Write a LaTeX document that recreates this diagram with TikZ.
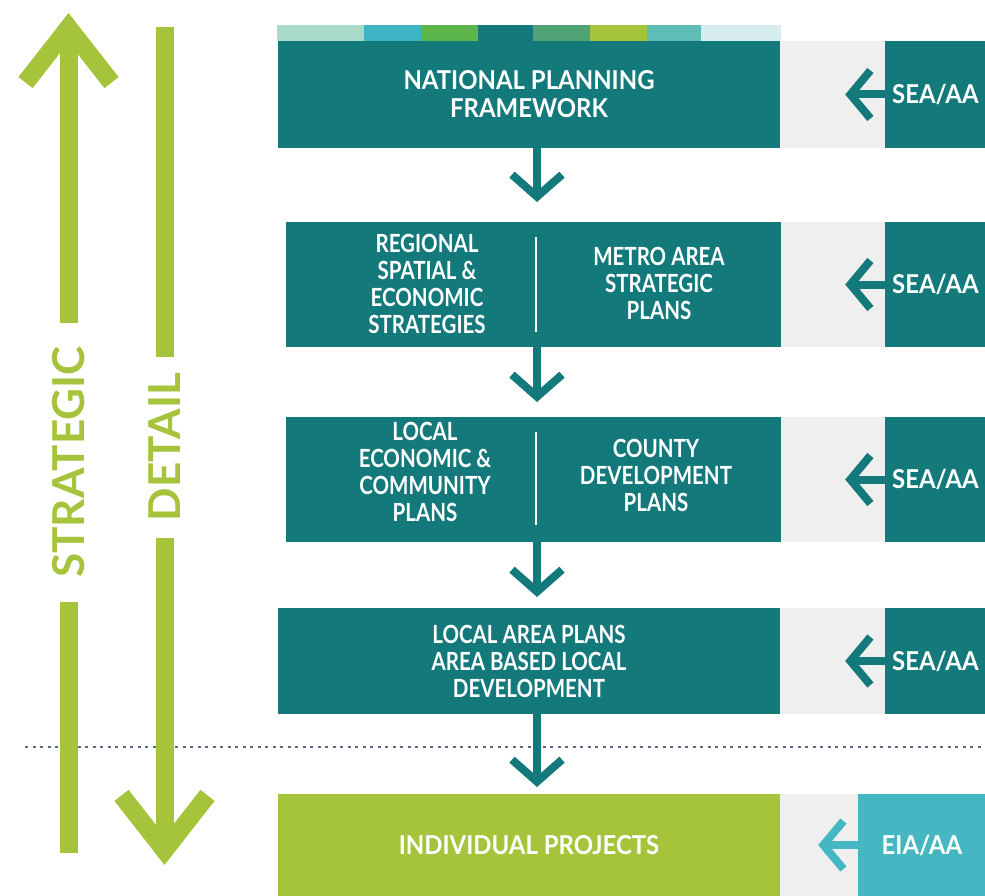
\documentclass[tikz,border=0pt]{standalone}
\usepackage{fontspec}
\setmainfont{Lato}
\newfontfamily\narrowfont{Lato}[FakeStretch=0.82]
\newfontfamily\widefont{Lato}[FakeStretch=0.92]
\usetikzlibrary{arrows.meta,positioning}

\definecolor{planteal}{HTML}{13797A}
\definecolor{planlime}{HTML}{A6C43B}
\definecolor{planaqua}{HTML}{45B7C2}
\definecolor{planpanel}{HTML}{EFEFEF}
\definecolor{planrule}{HTML}{5E6687}
\definecolor{stripa}{HTML}{A9D9C9}
\definecolor{stripb}{HTML}{3EB5C4}
\definecolor{stripc}{HTML}{5CB64B}
\definecolor{stripd}{HTML}{13797A}
\definecolor{stripe}{HTML}{4FA274}
\definecolor{stripf}{HTML}{A6C43B}
\definecolor{stripg}{HTML}{5EBDB5}
\definecolor{striph}{HTML}{D7ECEF}

\tikzset{
	boxfont/.style={font=\narrowfont\bfseries\fontsize{25}{27}\selectfont},
	bigfont/.style={font=\widefont\bfseries\fontsize{26}{28}\selectfont},
	planbox/.style={boxfont, fill=planteal, text=white, align=center, inner sep=0pt, minimum width=502pt, minimum height=#1},
	seabox/.style={bigfont, fill=planteal, text=white, inner sep=0pt, minimum width=100pt, minimum height=#1},
	coltext/.style={boxfont, text=white, align=center, inner sep=0pt},
	flow/.style={draw=planteal, line width=8pt, -{Straight Barb[length=22pt,width=50pt]}},
	inflow/.style={draw=#1, line width=8pt, -{Straight Barb[length=20pt,width=48pt]}},
	bigarrow/.style={draw=planlime, line width=18pt, -{Straight Barb[length=55pt,width=86pt]}},
	sidelabel/.style={fill=white, text=planlime, font=\bfseries\fontsize{44}{44}\selectfont, inner sep=0pt, minimum height=40pt}
}

\begin{document}
\begin{tikzpicture}[x=1pt, y=-1pt]
	\useasboundingbox (0,0) rectangle (985,896);

	\draw[planrule, line width=2.5pt, dash pattern=on 3pt off 4.5pt] (25,747) -- (985,747);

	\foreach \xa/\xb/\c in {277/364/stripa, 364/421/stripb, 421/478/stripc, 478/533/stripd, 533/590/stripe, 590/647/stripf, 647/701/stripg, 701/781/striph}
		\fill[\c] (\xa,25) rectangle (\xb,41.5);

	\node[planbox=107pt, bigfont] (natl) at (529,94.5) {NATIONAL PLANNING\\FRAMEWORK};
	\node[planbox=125pt, minimum width=495pt] (rses) at (533.5,284.5) {};
	\node[planbox=125pt, minimum width=495pt] (cdp) at (533.5,479.5) {};
	\node[planbox=106pt] (lap) at (529,661) {LOCAL AREA PLANS\\AREA BASED LOCAL\\DEVELOPMENT};
	\node[planbox=102pt, bigfont, fill=planlime] (proj) at (529,845) {INDIVIDUAL PROJECTS};

	\node[coltext] (regional) at (427,283.5) {REGIONAL\\SPATIAL \&\\ECONOMIC\\STRATEGIES};
	\node[coltext] (metro) at (659,283) {METRO AREA\\STRATEGIC\\PLANS};
	\node[coltext] (localecon) at (425,472) {LOCAL\\ECONOMIC \&\\COMMUNITY\\PLANS};
	\node[coltext] (county) at (656,475) {COUNTY\\DEVELOPMENT\\PLANS};
	\draw[white, line width=1.6pt] (536,237) -- (536,332);
	\draw[white, line width=1.6pt] (536,432) -- (536,525);

	\node[seabox=107pt, right=105pt of natl] (sea1) {SEA/AA};
	\node[seabox=125pt, right=104pt of rses] (sea2) {SEA/AA};
	\node[seabox=125pt, right=104pt of cdp] (sea3) {SEA/AA};
	\node[seabox=106pt, right=105pt of lap] (sea4) {SEA/AA};
	\node[seabox=102pt, minimum width=127pt, fill=planaqua, right=78pt of proj] (eia) {EIA/AA};

	\foreach \b/\s in {natl/sea1, rses/sea2, cdp/sea3, lap/sea4, proj/eia}
		\fill[planpanel] (\b.north east) rectangle (\s.south west);

	\coordinate (ar1) at (537,202);
	\coordinate (ar2) at (537,402);
	\coordinate (ar3) at (537,597);
	\coordinate (ar4) at (537,787);
	\draw[flow] (natl.south -| ar1) -- (ar1);
	\draw[flow] (rses.south -| ar2) -- (ar2);
	\draw[flow] (cdp.south -| ar3) -- (ar3);
	\draw[flow] (lap.south -| ar4) -- (ar4);

	\foreach \s in {sea1, sea2, sea3, sea4}
		\draw[inflow=planteal] (\s.west) -- ++(-40,0);
	\draw[inflow=planaqua] (eia.west) -- ++(-40,0);

	\coordinate (sbase) at (68.5,853);
	\coordinate (stip) at (68.5,13);
	\coordinate (dtop) at (164.5,27);
	\coordinate (dtip) at (164.5,865);
	\draw[bigarrow] (sbase) -- (stip);
	\draw[bigarrow] (dtop) -- (dtip);
	\node[sidelabel, rotate=90, minimum width=279pt] (strat) at (68.5,462) {STRATEGIC};
	\node[sidelabel, rotate=90, minimum width=181pt] (detail) at (164.5,447) {DETAIL};
\end{tikzpicture}
\end{document}
